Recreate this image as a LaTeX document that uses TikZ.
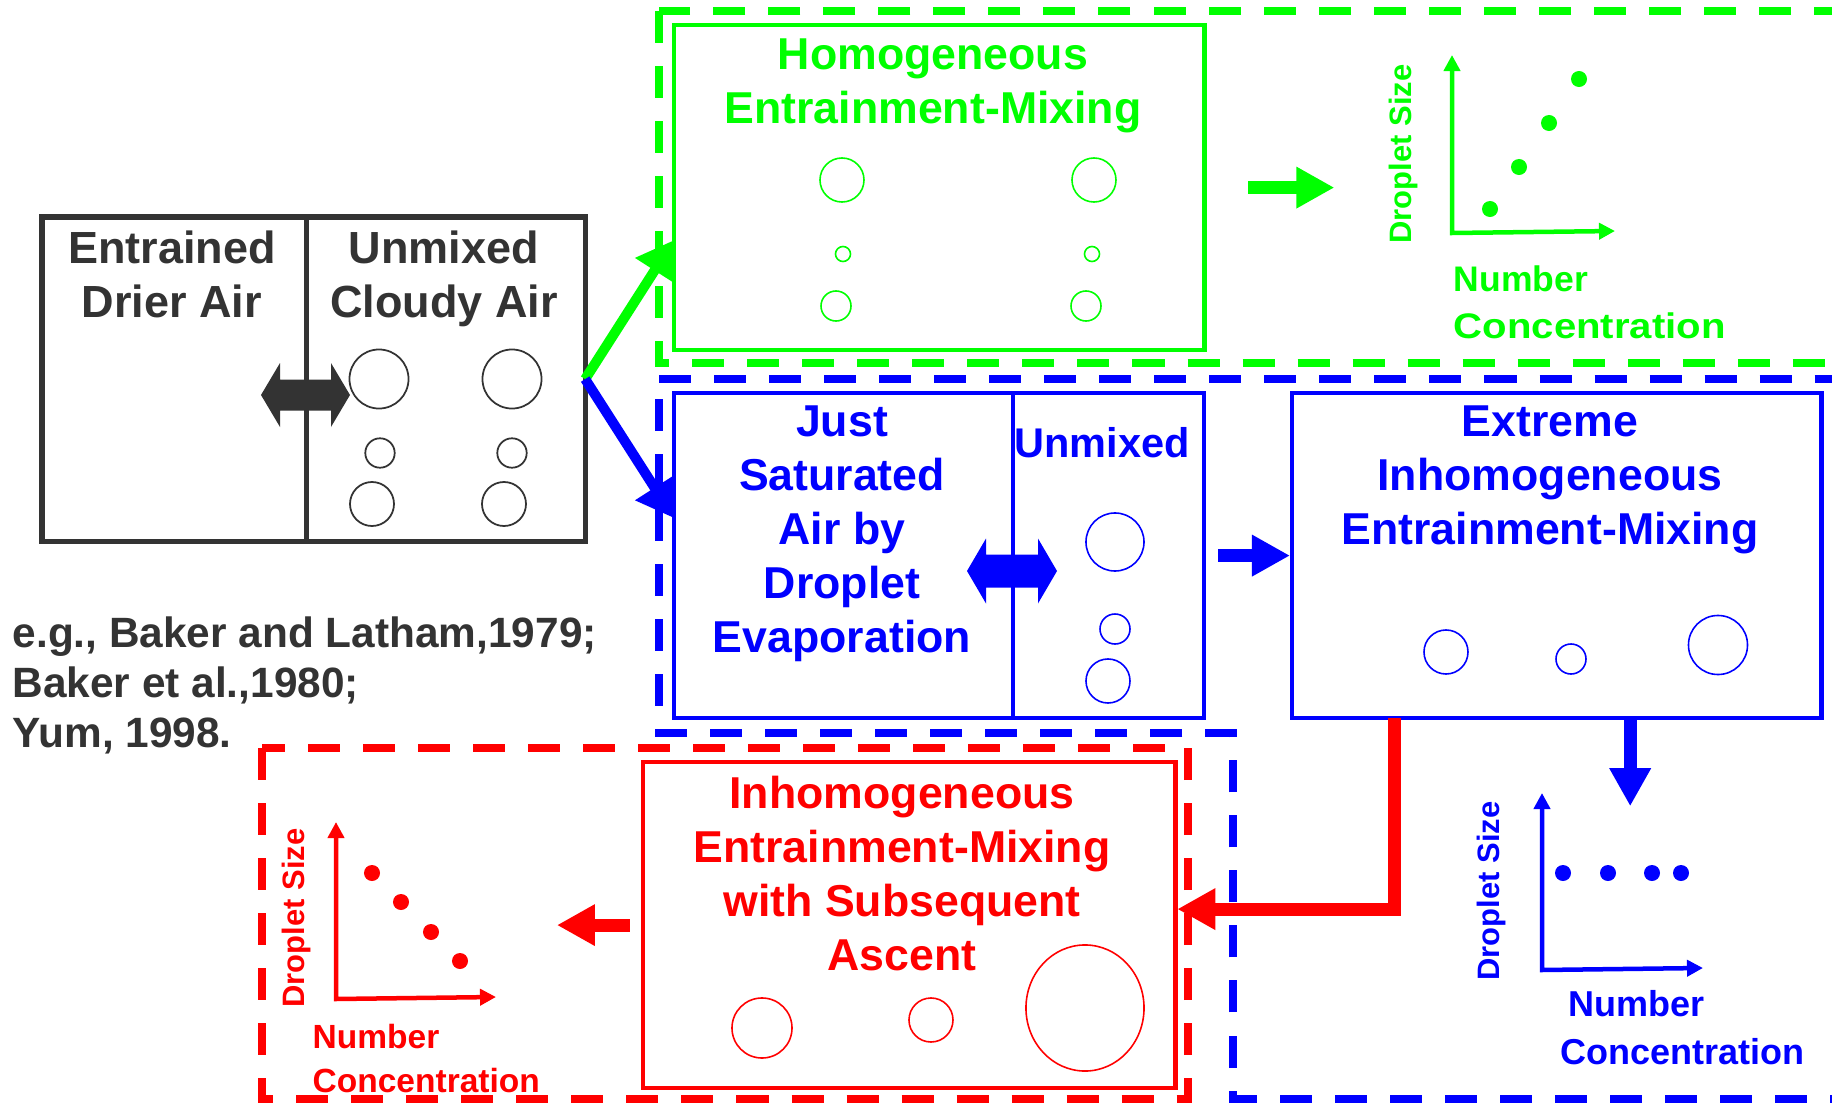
\documentclass[tikz,border=0pt]{standalone}
\usepackage{fontspec}
\setmainfont{Liberation Sans}
\usetikzlibrary{arrows.meta}
\definecolor{dgray}{HTML}{333333}
\definecolor{cgreen}{HTML}{00FF00}
\definecolor{cblue}{HTML}{0000FF}
\definecolor{cred}{HTML}{FF0000}
\tikzset{
  boxnode/.style={draw, rectangle, inner sep=0pt, outer sep=0pt, anchor=north west, line width=0.045cm},
  dbox/.style={line width=0.075cm, dash pattern=on 0.32cm off 0.23cm},
  title/.style={font=\fontsize{12.7pt}{15.36pt}\selectfont\bfseries, align=center, inner sep=0pt, anchor=north},
  citetext/.style={font=\fontsize{12.05pt}{14.2pt}\selectfont\bfseries, align=left, inner sep=0pt, anchor=north west},
  glabel/.style={font=\fontsize{10.1pt}{13.4pt}\selectfont\bfseries, align=left, inner sep=0pt, anchor=north west},
  ylabel/.style={font=\fontsize{8.8pt}{10pt}\selectfont\bfseries, rotate=90, inner sep=0pt},
  drop/.style={line width=0.45pt},
  fat/.style={line width=0.13cm, line join=miter, -{Triangle[length=0.38cm,width=0.39cm]}},
  slant/.style={line width=0.1cm, -{Triangle[length=0.36cm,width=0.44cm]}},
  axis/.style={line width=0.045cm, line join=miter, {Triangle[length=0.16cm,width=0.16cm]}-{Triangle[length=0.16cm,width=0.16cm]}},
}
\begin{document}
\begin{tikzpicture}[x=0.01cm,y=-0.01cm]
\useasboundingbox[fill=white] (0,0) rectangle (1832,1103);

% ---------- boxes ----------
\node[boxnode, dgray, line width=0.05cm, minimum width=2.64cm, minimum height=3.24cm] (Ldry) at (42,217) {};
\node[boxnode, dgray, line width=0.05cm, minimum width=2.79cm, minimum height=3.24cm] (Lcloud) at (306,217) {};
\node[boxnode, cgreen, minimum width=5.30cm, minimum height=3.25cm] (Hom) at (674,25) {};
\node[boxnode, cblue, minimum width=3.39cm, minimum height=3.25cm] (Sat) at (674,393) {};
\node[boxnode, cblue, minimum width=1.91cm, minimum height=3.25cm] (Unm) at (1013,393) {};
\node[boxnode, cblue, minimum width=5.29cm, minimum height=3.25cm] (Ext) at (1292,393) {};
\node[boxnode, cred, minimum width=5.32cm, minimum height=3.26cm] (Inh) at (643,762) {};

% ---------- connectors ----------
\draw[slant, cgreen] (Lcloud.east) -- ([yshift=-0.525cm]Hom.west);
\draw[slant, cblue] (Lcloud.east) -- ([yshift=0.375cm]Sat.west);
\draw[fat, cgreen] ([xshift=0.44cm]Hom.east) -- ([xshift=1.30cm]Hom.east);
\draw[fat, cblue] ([xshift=0.14cm]Unm.east) -- ([xshift=-0.02cm]Ext.west);
\draw[fat, cblue] ([xshift=0.735cm]Ext.south) -- ([xshift=0.735cm,yshift=-0.88cm]Ext.south);
\draw[fat, cred] ([xshift=-0.13cm]Inh.west) -- ([xshift=-0.86cm]Inh.west);
\draw[fat, cred] ([xshift=-1.625cm]Ext.south) |- ([xshift=0.02cm,yshift=0.16cm]Inh.east);

% ---------- dashed group frames ----------
\draw[dbox, cgreen] (659,11) rectangle (1836,363);
\draw[dbox, cred] (262,748) rectangle (1188,1099);
\draw[dbox, cblue] (659,379) -- (1836,379) -- (1836,1099) -- (1233,1099) -- (1233,733) -- (659,733) -- cycle;

% ---------- double arrows ----------
\fill[dgray] (261,395) -- (280,363) -- (280,379.5) -- (331,379.5) -- (331,363) -- (350,395)
  -- (331,427) -- (331,410.5) -- (280,410.5) -- (280,427) -- cycle;
\fill[cblue] (967,571) -- (986,538.5) -- (986,554.5) -- (1038,554.5) -- (1038,538.5) -- (1057,571)
  -- (1038,603.5) -- (1038,587.5) -- (986,587.5) -- (986,603.5) -- cycle;

% ---------- droplets ----------
\begin{scope}[dgray, line width=0.5pt]
\draw (379,379) circle[radius=0.295cm];
\draw (512,379) circle[radius=0.295cm];
\draw (380,453) circle[radius=0.147cm];
\draw (512,453) circle[radius=0.147cm];
\draw (372,504) circle[radius=0.22cm];
\draw (504,504) circle[radius=0.22cm];
\end{scope}
\begin{scope}[cgreen, drop]
\draw (842,180) circle[radius=0.22cm];
\draw (1094,180) circle[radius=0.22cm];
\draw (843,254) circle[radius=0.075cm];
\draw (1092,254) circle[radius=0.075cm];
\draw (836,306) circle[radius=0.15cm];
\draw (1086,306) circle[radius=0.15cm];
\end{scope}
\begin{scope}[cblue, drop]
\draw (1115,542) circle[radius=0.29cm];
\draw (1115,629) circle[radius=0.15cm];
\draw (1108,681) circle[radius=0.22cm];
\draw (1446,652) circle[radius=0.22cm];
\draw (1571,659) circle[radius=0.15cm];
\draw (1718,645) circle[radius=0.295cm];
\end{scope}
\begin{scope}[cred, drop]
\draw (762,1028) circle[radius=0.30cm];
\draw (931,1020) circle[radius=0.22cm];
\draw (1085,1008) ellipse[x radius=0.59cm, y radius=0.63cm];
\end{scope}

% ---------- graphs ----------
\draw[axis, cgreen] (1452,55) -- (1452,233) -- (1615,231);
\fill[cgreen] (1490,209) circle[radius=0.08cm] (1519,167) circle[radius=0.08cm]
  (1549,123) circle[radius=0.08cm] (1579,79) circle[radius=0.08cm];
\node[ylabel, cgreen] (gY) at (1403,154) {Droplet Size};
\node[glabel, cgreen] (gX) at (1453,265) {Number\\\scalebox{1.13}[1]{Concentration}};

\draw[axis, cblue] (1542,793) -- (1542,970) -- (1703,968);
\fill[cblue] (1563,873) circle[radius=0.08cm] (1608,873) circle[radius=0.08cm]
  (1652,873) circle[radius=0.08cm] (1681,873) circle[radius=0.08cm];
\node[ylabel, cblue] (bY) at (1491,891) {Droplet Size};
\node[glabel, cblue, font=\fontsize{10.24pt}{13.66pt}\selectfont\bfseries] (bX) at (1560,990) {\hspace{0.08cm}Number\\Concentration};

\draw[axis, cred] (336,822) -- (336,999) -- (496,997);
\fill[cred] (372,873) circle[radius=0.08cm] (401,902) circle[radius=0.08cm]
  (431,932) circle[radius=0.08cm] (460,961) circle[radius=0.08cm];
\node[ylabel, cred] (rY) at (296,918) {Droplet Size};
\node[glabel, cred, font=\fontsize{9.53pt}{12.5pt}\selectfont\bfseries] (rX) at (312,1024) {Number\\Concentration};

% ---------- texts ----------
\node[title, dgray, font=\fontsize{12.8pt}{15.36pt}\selectfont\bfseries] (tEnt) at (172,230) {Entrained\\Drier Air};
\node[title, dgray, font=\fontsize{12.8pt}{15.36pt}\selectfont\bfseries] (tCld) at (444,230) {Unmixed\\Cloudy Air};
\node[title, cgreen] (tHom) at (933,38) {Homogeneous\\Entrainment-Mixing};
\node[title, cblue] (tSat) at (842,405) {Just\\Saturated\\Air by\\Droplet\\Evaporation};
\node[title, cblue, font=\fontsize{11.8pt}{14pt}\selectfont\bfseries] (tUnm) at (1102,427) {Unmixed};
\node[title, cblue] (tExt) at (1550,405) {Extreme\\Inhomogeneous\\Entrainment-Mixing};
\node[title, cred] (tInh) at (902,775) {Inhomogeneous\\Entrainment-Mixing\\with Subsequent\\Ascent};
\node[citetext, dgray] (tCite) at (12,616) {e.g., Baker and Latham,1979;\\Baker et al.,1980;\\Yum, 1998.};
\end{tikzpicture}
\end{document}
